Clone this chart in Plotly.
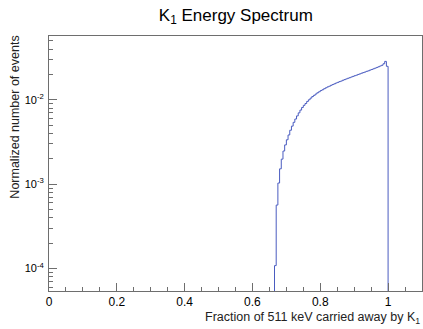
import math
import plotly.graph_objects as go

# ---- data ----
bin_width = 0.005
first_bin_low = 0.665
counts = [
    0.000108, 0.000565, 0.00103, 0.00152, 0.00198, 0.00247, 0.00292,
    0.00336, 0.00383, 0.00436, 0.00488, 0.00541, 0.00592, 0.00645, 0.00701,
    0.00756, 0.00812, 0.00861, 0.00905, 0.00958, 0.01002, 0.01049, 0.01094,
    0.01131, 0.01172, 0.01213, 0.01248, 0.01289, 0.01318, 0.01356, 0.01390,
    0.01425, 0.01452, 0.01488, 0.01519, 0.01550, 0.01583, 0.01612, 0.01646,
    0.01671, 0.01709, 0.01738, 0.01771, 0.01804, 0.01832, 0.01868, 0.01899,
    0.01935, 0.01962, 0.02001, 0.02033, 0.02071, 0.02105, 0.02138, 0.02179,
    0.02210, 0.02255, 0.02290, 0.02336, 0.02375, 0.02423, 0.02468, 0.02520,
    0.02571, 0.02680, 0.02860, 0.02500,
]
x_tick_vals = [0, 0.2, 0.4, 0.6, 0.8, 1.0]
x_tick_text = ["0", "0.2", "0.4", "0.6", "0.8", "1"]
x_range = [0, 1.1]
y_tick_vals = [1e-4, 1e-3, 1e-2]
y_tick_text = ["10<sup>-4</sup>", "10<sup>-3</sup>", "10<sup>-2</sup>"]

title_text = "K<sub>1</sub> Energy Spectrum"
x_title = "Fraction of 511 keV carried away by K<sub>1</sub>"
y_title = "Normalized number of events"

# ---- build step outline ----
ymin = min(counts) / 2.0
ymax = max(counts) * 2.0
edges = [first_bin_low + i * bin_width for i in range(len(counts) + 1)]
floor = ymin / 10.0
xs = [edges[0]]
ys = [floor]
for i, c in enumerate(counts):
    xs += [edges[i], edges[i + 1]]
    ys += [c, c]
xs.append(edges[-1])
ys.append(floor)

line_color = "#4a5cc0"
frame_color = "#6e6e6e"
font_family = "Liberation Sans, Arial, Helvetica, sans-serif"

fig = go.Figure()
fig.add_trace(go.Scatter(x=xs, y=ys, mode="lines",
                         line=dict(color=line_color, width=1),
                         hoverinfo="skip", showlegend=False))

fig.update_layout(
    width=423, height=329,
    margin=dict(l=49, r=1, t=36, b=38),
    paper_bgcolor="white", plot_bgcolor="white",
    font=dict(family=font_family, size=12, color="black"),
    title=dict(text=title_text, x=0.5575, xanchor="center", y=0.955, yanchor="middle",
               font=dict(size=17, color="black")),
    showlegend=False,
)

fig.update_xaxes(
    range=x_range, showgrid=False, zeroline=False,
    showline=True, mirror=True, linecolor=frame_color, linewidth=1,
    ticks="inside", ticklen=8, tickcolor=frame_color, tickwidth=1,
    tickvals=x_tick_vals, ticktext=x_tick_text,
    minor=dict(ticks="inside", ticklen=4, dtick=0.05, tick0=0, tickcolor=frame_color, showgrid=False),
    tickfont=dict(size=12, color="black"),
)
fig.update_yaxes(
    type="log", range=[math.log10(ymin), math.log10(ymax)],
    showgrid=False, zeroline=False,
    showline=True, mirror=True, linecolor=frame_color, linewidth=1,
    ticks="inside", ticklen=8, tickcolor=frame_color, tickwidth=1,
    tickvals=y_tick_vals, ticktext=y_tick_text,
    minor=dict(ticks="inside", ticklen=4, dtick="D1", tickcolor=frame_color, showgrid=False),
    tickfont=dict(size=11, color="black"),
    ticklabelstandoff=2,
)

fig.add_annotation(text=x_title, xref="paper", yref="paper", x=1.0, y=-0.068,
                   xanchor="right", yanchor="top", showarrow=False,
                   font=dict(size=12.5, color="#222"))
fig.add_annotation(text=y_title, xref="paper", yref="paper", x=-0.092, y=1.01,
                   xanchor="center", yanchor="top", textangle=-90, showarrow=False,
                   font=dict(size=12.5, color="#222"))

fig.write_html("out.html")
